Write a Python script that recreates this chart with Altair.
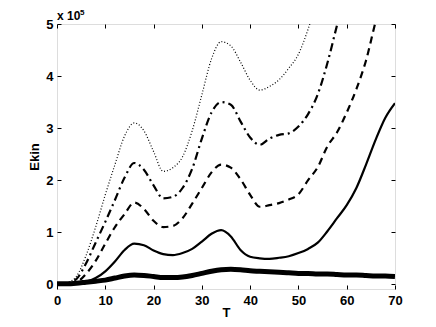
import altair as alt
import pandas as pd

# time grid (T) and kinetic energy curves in units of 1e5
T = [0, 2, 4, 6, 8, 10, 12, 14, 16, 18, 20, 22, 24, 26, 28, 30, 32, 34, 36,
     38, 40, 42, 44, 46, 48, 50, 52, 54, 56, 58, 60, 62, 64, 66, 68, 70]

thick = [0.01, 0.01, 0.02, 0.04, 0.06, 0.08, 0.12, 0.16, 0.18, 0.17, 0.15, 0.13,
         0.13, 0.14, 0.17, 0.21, 0.25, 0.28, 0.29, 0.28, 0.26, 0.25, 0.24, 0.23,
         0.22, 0.21, 0.21, 0.20, 0.20, 0.19, 0.18, 0.18, 0.17, 0.16, 0.16, 0.15]

thin = [0.01, 0.01, 0.02, 0.05, 0.12, 0.25, 0.44, 0.66, 0.78, 0.75, 0.65, 0.58,
        0.56, 0.60, 0.68, 0.82, 0.97, 1.04, 0.92, 0.66, 0.53, 0.50, 0.49, 0.51,
        0.54, 0.60, 0.68, 0.80, 1.02, 1.27, 1.52, 1.85, 2.30, 2.78, 3.20, 3.48]

dashed = [0.01, 0.01, 0.04, 0.20, 0.45, 0.78, 1.10, 1.35, 1.57, 1.45, 1.22, 1.10,
          1.12, 1.27, 1.55, 1.85, 2.15, 2.30, 2.24, 2.02, 1.72, 1.49, 1.52, 1.56,
          1.63, 1.73, 2.00, 2.25, 2.65, 2.92, 3.30, 3.75, 4.30, 5.05, 5.70, 6.40]

dashdot = [0.01, 0.02, 0.10, 0.40, 0.80, 1.20, 1.62, 2.05, 2.33, 2.20, 1.90, 1.65,
           1.68, 1.85, 2.22, 2.80, 3.30, 3.50, 3.45, 3.13, 2.82, 2.68, 2.80, 2.87,
           2.90, 3.03, 3.27, 3.65, 4.25, 4.98, 5.70]

dotted = [0.01, 0.03, 0.15, 0.55, 1.10, 1.72, 2.30, 2.85, 3.10, 2.95, 2.55, 2.17,
          2.24, 2.45, 2.95, 3.64, 4.33, 4.66, 4.58, 4.27, 3.92, 3.73, 3.80, 3.93,
          4.15, 4.42, 4.90, 5.50]

x_ticks = [0, 10, 20, 30, 40, 50, 60, 70]
y_ticks = [0, 1, 2, 3, 4, 5]
exp_base = ["x 10"]
exp_power = ["5"]

FONT = "Liberation Sans"

def df(vals):
    return pd.DataFrame({"T": T[:len(vals)], "E": vals})

xscale = alt.Scale(domain=[0, 70], nice=False, zero=False)
yscale = alt.Scale(domain=[-0.09, 5], nice=False, zero=False)

ax_bottom = alt.Axis(orient="bottom", values=x_ticks, tickSize=4, offset=-4,
                     domain=False, grid=False, labelPadding=5, title="T",
                     titleBaseline="alphabetic", titleY=31,
                     labelFont=FONT, labelFontSize=13,
                     labelFontWeight="bold", titleFont=FONT, titleFontSize=13,
                     titleFontWeight="bold", tickColor="black",
                     labelColor="black", titleColor="black", labelFlush=False)
ax_left = alt.Axis(orient="left", values=y_ticks, tickSize=4, offset=-4,
                   domain=False, grid=False, labelPadding=4, title="Ekin",
                   titlePadding=4, format="d", labelFont=FONT, labelFontSize=13,
                   labelFontWeight="bold", titleFont=FONT, titleFontSize=13,
                   titleFontWeight="bold", tickColor="black",
                   labelColor="black", titleColor="black", labelFlush=False)
ax_top = alt.Axis(orient="top", values=x_ticks, tickSize=4, offset=-4,
                  domain=False, grid=False, labels=False, title=None,
                  tickColor="black")
ax_right = alt.Axis(orient="right", values=y_ticks, tickSize=4, offset=-4,
                    domain=False, grid=False, labels=False, title=None,
                    tickColor="black")


def line(vals, width, dash=None, xaxis=None, yaxis=None):
    kw = dict(color="black", strokeWidth=width, interpolate="monotone", clip=True)
    if dash:
        kw["strokeDash"] = dash
    return alt.Chart(df(vals)).mark_line(**kw).encode(
        x=alt.X("T:Q", scale=xscale, axis=xaxis),
        y=alt.Y("E:Q", scale=yscale, axis=yaxis),
    )

l_thick = line(thick, 5, xaxis=ax_bottom, yaxis=ax_left)
l_thin = line(thin, 2.2, xaxis=ax_top, yaxis=ax_right)
l_dash = line(dashed, 2.2, dash=[7, 5])
l_dashdot = line(dashdot, 2.2, dash=[8, 4, 2, 4])
l_dot = line(dotted, 1.2, dash=[1, 2])

t_base = alt.Chart(pd.DataFrame({"t": exp_base})).mark_text(
    font=FONT, fontSize=12, fontWeight="bold", align="left", baseline="alphabetic",
    color="black").encode(text="t:N", x=alt.value(0), y=alt.value(-4))
t_pow = alt.Chart(pd.DataFrame({"t": exp_power})).mark_text(
    font=FONT, fontSize=8, fontWeight="bold", align="left", baseline="alphabetic",
    color="black").encode(text="t:N", x=alt.value(23), y=alt.value(-9))

chart = alt.layer(l_thick, l_thin, l_dash, l_dashdot, l_dot, t_base, t_pow).resolve_axis(
    x="independent", y="independent"
).properties(
    width=338, height=265,
    autosize=alt.AutoSizeParams(type="none"),
    padding={"left": 49, "top": 16, "right": 33, "bottom": 30},
).configure_view(stroke="black", strokeWidth=1).configure(background="white")

chart.save("out.html", embed_options={"renderer": "svg", "actions": False})
